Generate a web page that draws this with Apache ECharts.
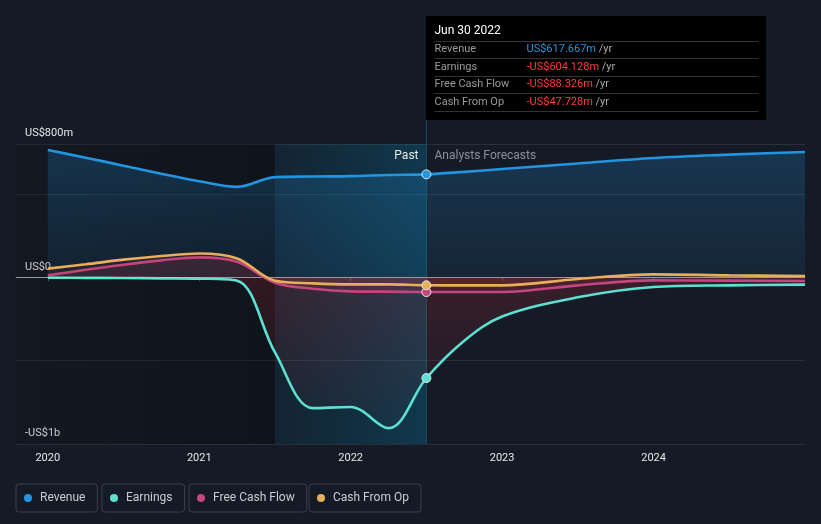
<!DOCTYPE html>
<html><head><meta charset="utf-8">
<script src="https://cdn.jsdelivr.net/npm/echarts@6/dist/echarts.min.js"></script>
<style>html,body{margin:0;padding:0;background:#151b26}#c{width:821px;height:524px}</style>
</head><body><div id="c"></div>
<script>
// ---- data ----
const dates        = [2020, 2020.25, 2020.5, 2020.75, 2021, 2021.25, 2021.5, 2021.75, 2022, 2022.25, 2022.5, 2022.75, 2023, 2023.5, 2024, 2024.5, 2025];
const revenue      = [764, 718, 670, 622, 577, 543, 601, 605, 607, 614, 617.667, 633, 650, 683, 716, 736, 752];
const earnings     = [-2, -3, -4, -6, -8, -20, -450, -785, -778, -905, -604.128, -380, -235, -120, -58, -48, -44];
const freeCashFlow = [12, 45, 76, 102, 120, 93, -32, -68, -84, -86, -88.326, -88, -88, -48, -18, -20, -22];
const cashFromOp   = [52, 78, 106, 128, 143, 113, -20, -36, -42, -42, -47.728, -48, -48, -10, 18, 12, 8];
const yearTicks    = [2020, 2021, 2022, 2023, 2024];
const yLabels      = {'800': 'US$800m', '0': 'US$0', '-1000': '-US$1b'};
const pastEnd = 2022.5, lastYearStart = 2021.5;
const tooltipDate = 'Jun 30 2022';
const tooltipRows = [
  ['Revenue', 'US$617.667m', '#2394df'],
  ['Earnings', '-US$604.128m', '#ff3b3b'],
  ['Free Cash Flow', '-US$88.326m', '#ff3b3b'],
  ['Cash From Op', '-US$47.728m', '#ff3b3b']
];
const names  = ['Revenue', 'Earnings', 'Free Cash Flow', 'Cash From Op'];
const colors = ['#2394df', '#5ce0d2', '#c4457f', '#e8ae5a'];
const values = [revenue, earnings, freeCashFlow, cashFromOp];

const font = 'Roboto, "Noto Sans", sans-serif';
const chart = echarts.init(document.getElementById('c'), null, {renderer: 'canvas'});

const areaColors = [
  {type:'linear', x:0, y:0, x2:0, y2:1, colorStops:[{offset:0, color:'rgba(35,148,223,0.32)'},{offset:1, color:'rgba(35,148,223,0.12)'}]},
  {type:'linear', x:0, y:0, x2:0, y2:1, colorStops:[{offset:0, color:'rgba(210,45,55,0.26)'},{offset:1, color:'rgba(210,45,55,0.04)'}]},
  'rgba(205,60,85,0.17)',
  'rgba(205,70,70,0.13)'
];

function mk(i) {
  const c = colors[i];
  return {
    name: names[i], type: 'line', z: 3 + i, smooth: 0.35, symbol: 'none',
    data: dates.map((d, k) => d === pastEnd
      ? {value: [d, values[i][k]], symbol: 'circle', symbolSize: 9, itemStyle: {color: c, borderColor: '#e6e6e6', borderWidth: 1}}
      : [d, values[i][k]]),
    lineStyle: {color: c, width: 2.6},
    itemStyle: {color: c},
    areaStyle: {color: areaColors[i], origin: 0},
    emphasis: {disabled: true},
    silent: true
  };
}

const series = [
  {
    name: '_bands', type: 'line', z: 1, data: [], silent: true,
    markArea: {silent: true, data: [
      [{xAxis: 'min', itemStyle: {color: {type:'linear', x:0, y:0, x2:1, y2:0, colorStops:[{offset:0, color:'rgba(0,0,0,0.12)'},{offset:1, color:'rgba(0,0,0,0.28)'}]}}}, {xAxis: lastYearStart}],
      [{xAxis: lastYearStart, itemStyle: {color: {type:'linear', x:0, y:0, x2:1, y2:0, colorStops:[{offset:0, color:'rgba(0,140,190,0.08)'},{offset:1, color:'rgba(0,150,200,0.24)'}]}}}, {xAxis: pastEnd}]
    ]},
    markLine: {silent: true, symbol: 'none', label: {show: false},
      data: [{yAxis: 0, lineStyle: {color: 'rgba(205,205,210,0.6)', width: 1, type: 'solid'}}]}
  },
  mk(0), mk(1), mk(2), mk(3)
];

const legendLefts = [16, 102, 189, 309];

chart.setOption({
  backgroundColor: '#151b26',
  animation: false,
  grid: {left: 16, right: 16, top: 144, bottom: 80},
  xAxis: {
    type: 'value', min: 2019.79, max: 2025,
    axisLine: {show: true, lineStyle: {color: '#555a63', width: 1}},
    axisTick: {show: true, customValues: yearTicks, length: 4, lineStyle: {color: '#555a63'}},
    axisLabel: {customValues: yearTicks, color: '#e6e6e6', fontSize: 11, fontFamily: font, margin: 9, formatter: v => String(Math.round(v))},
    splitLine: {show: false}
  },
  yAxis: {
    type: 'value', min: -1000, max: 800, interval: 500,
    axisLine: {show: false}, axisTick: {show: false},
    axisLabel: {inside: true, margin: 9, verticalAlign: 'bottom', padding: [0, 0, 5, 0], color: '#e6e6e6', fontSize: 11, fontFamily: font,
      formatter: v => yLabels[String(v)] || ''},
    splitLine: {show: true, lineStyle: {color: '#2a303a', width: 1}}
  },
  legend: names.map((n, i) => ({
    data: [n], left: legendLefts[i], top: 484, orient: 'horizontal',
    icon: 'circle', itemWidth: 14, itemHeight: 8,
    padding: [7, 12, 7, 8], borderColor: '#3a3f49', borderWidth: 1, borderRadius: 3,
    textStyle: {color: '#c9ccd1', fontSize: 12, fontFamily: font, lineHeight: 14},
    selectedMode: false
  })),
  series
});

// ---- decorations anchored on the data scale ----
const pTop = chart.convertToPixel({gridIndex: 0}, [pastEnd, 800]);
const pBot = chart.convertToPixel({gridIndex: 0}, [pastEnd, -1000]);
const lx = Math.round(pTop[0]) + 0.5;
const boxTop = 16, boxH = 104, boxW = 340;
const els = [];
els.push({type: 'line', z: 1, shape: {x1: lx, y1: boxTop + boxH, x2: lx, y2: pBot[1]}, style: {stroke: '#1b4a5a', lineWidth: 1}});
els.push({type: 'rect', z: 100, shape: {x: lx - 0.5, y: boxTop, width: boxW, height: boxH}, style: {fill: '#000000'}});
els.push({type: 'text', z: 101, x: lx + 8, y: 31, style: {text: tooltipDate, fill: '#ffffff', font: '12px ' + font, verticalAlign: 'middle'}});
const sepY = [41, 58, 76, 93, 111];
sepY.forEach(y => els.push({type: 'line', z: 101, shape: {x1: lx + 8, y1: y + 0.5, x2: lx + boxW - 8, y2: y + 0.5}, style: {stroke: '#333333', lineWidth: 1}}));
const rowY = [49.5, 67, 84.5, 102];
tooltipRows.forEach((r, i) => {
  els.push({type: 'text', z: 101, x: lx + 8, y: rowY[i], style: {text: r[0], fill: '#9a9a9a', font: '11px ' + font, verticalAlign: 'middle'}});
  els.push({type: 'text', z: 101, x: lx + 100, y: rowY[i], style: {
    text: '{v|' + r[1] + '} {u|/yr}', verticalAlign: 'middle', font: '11px ' + font,
    rich: {v: {fill: r[2], fontSize: 11, fontFamily: font}, u: {fill: '#a8a8a8', fontSize: 11, fontFamily: font}}}});
});
els.push({type: 'text', z: 101, x: lx - 8, y: 156, style: {text: 'Past', fill: '#e8e8e8', font: '12px ' + font, align: 'right', verticalAlign: 'middle'}});
els.push({type: 'text', z: 101, x: lx + 8, y: 156, style: {text: 'Analysts Forecasts', fill: '#8a8f98', font: '12px ' + font, align: 'left', verticalAlign: 'middle'}});
chart.setOption({graphic: {elements: els}});
</script>
</body></html>
